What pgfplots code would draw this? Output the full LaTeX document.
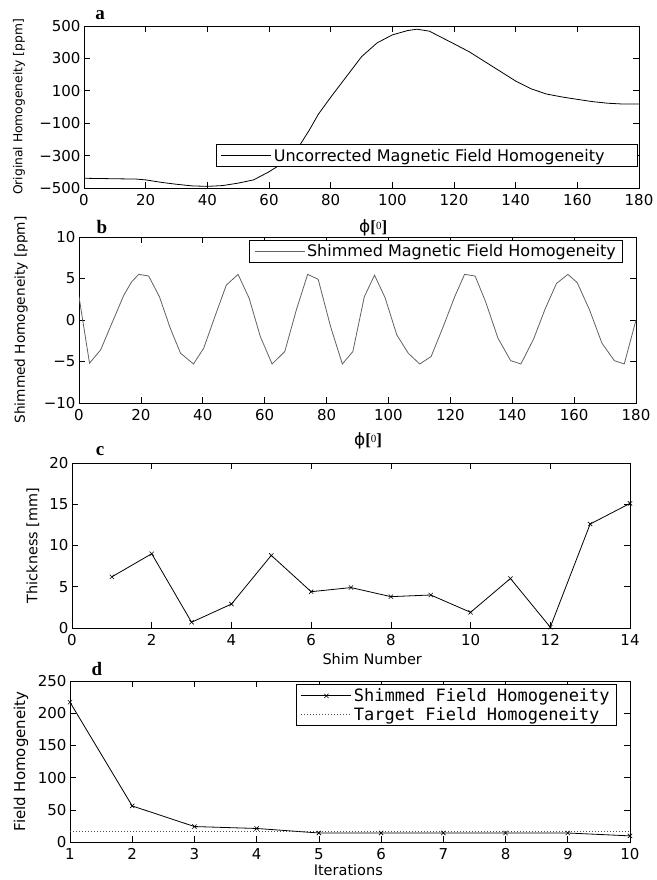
\documentclass[border=0pt]{standalone}
\usepackage{pgfplots}
\pgfplotsset{compat=1.18}
\usepackage{fontspec}
\setmainfont{DejaVu Sans}
\newfontfamily\monof{DejaVu Sans Mono}
\newfontfamily\serf{Liberation Serif}
\newcommand\tickf{\fontsize{15}{17}\selectfont}
\newcommand\labf{\fontsize{14.5}{17}\selectfont}
\newcommand\legf{\fontsize{16}{18}\selectfont}
\newcommand\panelf{\fontsize{19}{21}\selectfont\serf\bfseries}
\newcommand\phil{{\fontsize{17}{19}\selectfont ϕ\serf\bfseries[\raisebox{0.4ex}{\fontsize{11}{11}\selectfont\mdseries 0}]}}

\pgfplotsset{
  mat/.style={
    scale only axis,
    axis line style={line width=0.8pt},
    tick style={line width=0.6pt,black},
    major tick length=6pt,
    tick align=inside,
    ticklabel style={font=\tickf},
    xticklabel style={yshift=-3pt},
    label style={font=\labf},
    /pgf/number format/assume math mode=true,
    legend cell align=left,
    legend style={draw=black,line width=0.8pt,font=\legf,inner xsep=5pt,inner ysep=2pt},
    legend image code/.code={\draw[##1] (0pt,0pt) -- (50pt,0pt);},
  },
  ylab/.style 2 args={every axis y label/.style={at={(axis description cs:#1,0.5)},rotate=90,anchor=center,font=\fontsize{#2}{17}\selectfont}},
}

\begin{document}
\begin{tikzpicture}
\useasboundingbox (0,0) rectangle (656pt,880pt);

% a
\begin{axis}[mat, at={(84pt,692pt)}, anchor=south west, width=555pt, height=162pt,
  xmin=0, xmax=180, ymin=-500, ymax=500,
  xtick={0,20,...,180},
  ytick={-500,-300,-100,100,300,500},
  yticklabels={−500,−300,−100,100,300,500},
  xlabel={\phil},
  xlabel style={at={(axis description cs:0.521,-0.247)},anchor=center},
  ylabel={Original Homogeneity [ppm]},
  ylab={-0.117}{12.3},
  legend style={at={(rel axis cs:0.998,0.13)},anchor=south east},
]
\addplot[black,line width=0.8pt] coordinates {
 (0,-440) (10,-443) (17,-445) (20,-450) (25,-465) (30,-477) (35,-487) (40,-490)
 (45,-485) (50,-470) (55,-450) (60,-400) (65,-340) (70,-235) (73,-145) (76,-45)
 (80,60) (85,185) (90,310) (95,395) (100,445) (105,472) (108,480) (112,468)
 (120,390) (125,340) (130,280) (135,220) (140,160) (145,112) (150,80) (155,62)
 (160,47) (165,33) (170,23) (175,18) (180,18)
};
\addlegendentry{Uncorrected Magnetic Field Homogeneity\rule{26pt}{0pt}}
\end{axis}

% b
\begin{axis}[mat, at={(79pt,477pt)}, anchor=south west, width=557pt, height=166pt,
  xmin=0, xmax=180, ymin=-10, ymax=10,
  xtick={0,20,...,180},
  ytick={-10,-5,0,5,10},
  yticklabels={−10,−5,0,5,10},
  xlabel={\phil},
  xlabel style={at={(axis description cs:0.519,-0.229)},anchor=center},
  ylabel={Shimmed Homogeneity [ppm]},
  ylab={-0.104}{13.7},
  legend style={at={(rel axis cs:0.977,0.98)},anchor=north east},
]
\addplot[black!62,line width=0.8pt] coordinates {
 (0,2.8) (3.4,-5.2) (7,-3.6) (10.5,-0.5) (14.5,3) (17,4.6) (19.3,5.5) (22.5,5.3)
 (26,2.8) (29.5,-1) (32.8,-4) (37,-5.3) (40.3,-3.4) (44,0.5) (47.6,4.2) (51.4,5.5)
 (55,2.6) (58.6,-2) (62.4,-5.3) (66.5,-3.8) (70.3,1.3) (73.9,5.5) (77.3,4.9)
 (81.3,-0.8) (85.1,-5.3) (88.5,-3.8) (92.2,2.8) (95.5,5.4) (98.9,2.7) (102.7,-1.8)
 (106.4,-4) (110.1,-5.3) (113.8,-4.4) (117.7,-0.8) (121.4,2.8) (124.6,5.5) (128,5.3)
 (131.4,2.2) (135.4,-2.2) (139.5,-4.9) (142.8,-5.3) (146.9,-2.3) (150.6,1.3)
 (154.3,4.4) (158,5.5) (161,4.5) (165,1.2) (169,-2.8) (173,-4.9) (176.2,-5.3) (180,0)
};
\addlegendentry{Shimmed Magnetic Field Homogeneity}
\end{axis}

% c
\begin{axis}[mat, at={(72pt,252pt)}, anchor=south west, width=558pt, height=165pt,
  xmin=0, xmax=14, ymin=0, ymax=20,
  xtick={0,2,...,14},
  ytick={0,5,...,20},
  xlabel={Shim Number},
  xlabel style={at={(axis description cs:0.538,-0.19)},anchor=center},
  ylabel={Thickness [mm]},
  ylab={-0.070}{14.4},
]
\addplot[black,line width=0.8pt,mark=x,mark size=3pt,mark options={line width=0.6pt}] coordinates {
 (1,6.2) (2,9.0) (3,0.7) (4,2.9) (5,8.8) (6,4.4) (7,4.9) (8,3.8) (9,4.0)
 (10,1.9) (11,6.0) (12,0.1) (13,12.6) (14,15.1)
};
\end{axis}

% d
\begin{axis}[mat, at={(70pt,38pt)}, anchor=south west, width=560pt, height=161pt,
  xmin=1, xmax=10, ymin=0, ymax=250,
  xtick={1,...,10},
  ytick={0,50,...,250},
  xlabel={Iterations},
  xlabel style={at={(axis description cs:0.497,-0.175)},anchor=center},
  ylabel={Field Homogeneity},
  ylab={-0.0875}{15},
  legend style={at={(rel axis cs:0.977,0.98)},anchor=north east,font=\fontsize{17}{19}\selectfont\monof},
  legend image code/.code={\draw[mark repeat=2,mark phase=2,#1] plot coordinates {(0pt,0pt) (25pt,0pt) (50pt,0pt)};},
]
\addplot[black,line width=0.8pt,mark=x,mark size=3pt,mark options={line width=0.6pt}] coordinates {
 (1,217) (2,56) (3,24) (4,21) (5,14) (6,14) (7,14) (8,14) (9,14) (10,9.5)
};
\addlegendentry{Shimmed Field Homogeneity}
\addplot[black!70,line width=0.7pt,dash pattern=on 1pt off 2pt] coordinates {
 (1,16) (10,16)
};
\addlegendentry{Target Field Homogeneity}
\end{axis}

\node[font=\panelf] at (100pt,865pt) {a};
\node[font=\panelf] at (102pt,653pt) {b};
\node[font=\panelf] at (100pt,429pt) {c};
\node[font=\panelf] at (97pt,211pt) {d};
\end{tikzpicture}
\end{document}
